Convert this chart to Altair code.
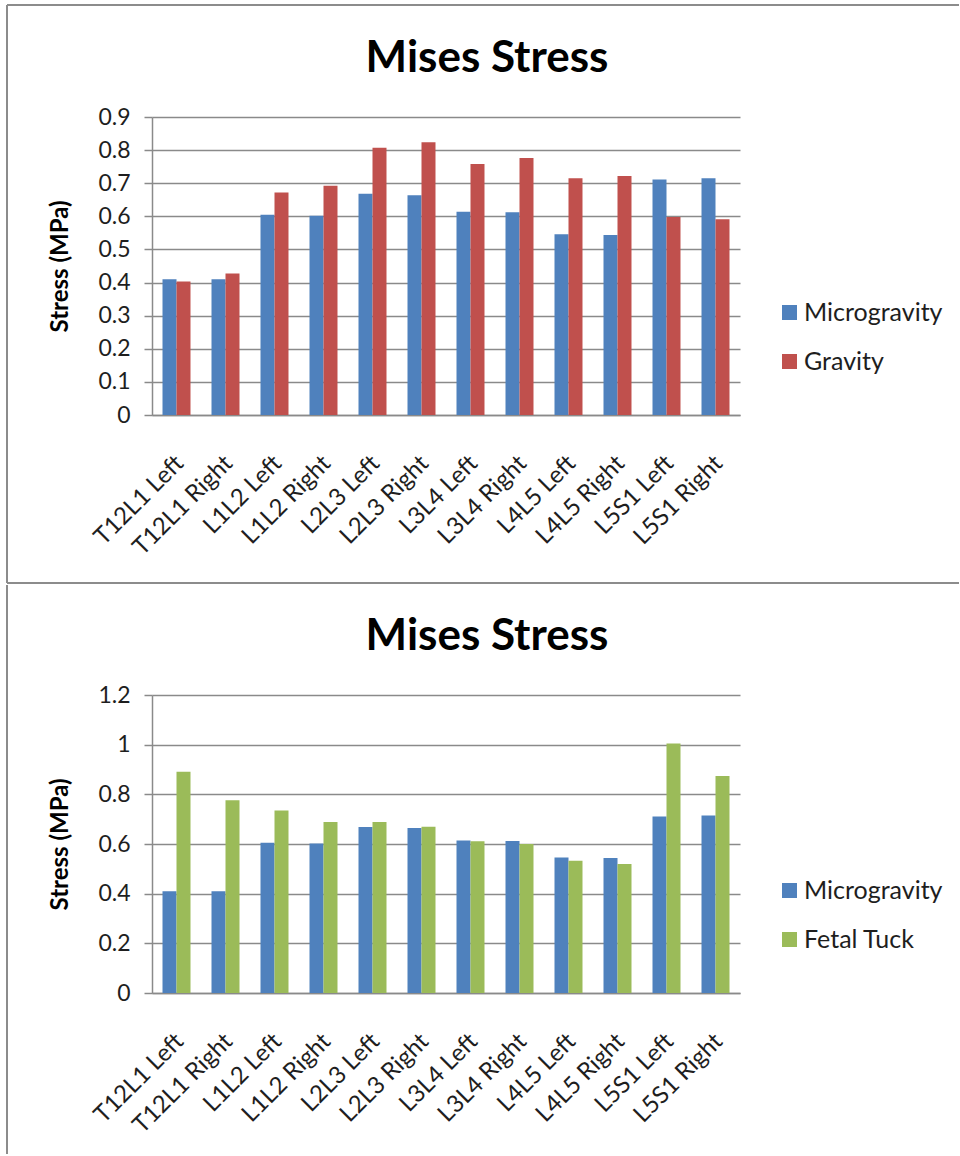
import altair as alt
import pandas as pd

# Facet joint segments along the x axis
segments = [
    "T12L1 Left", "T12L1 Right", "L1L2 Left", "L1L2 Right",
    "L2L3 Left", "L2L3 Right", "L3L4 Left", "L3L4 Right",
    "L4L5 Left", "L4L5 Right", "L5S1 Left", "L5S1 Right",
]

# Mises stress per segment (MPa)
microgravity = [0.410, 0.410, 0.605, 0.602, 0.668, 0.664, 0.614, 0.612, 0.546, 0.544, 0.711, 0.715]
gravity = [0.403, 0.427, 0.672, 0.692, 0.807, 0.824, 0.758, 0.776, 0.715, 0.722, 0.598, 0.591]
fetal_tuck = [0.891, 0.776, 0.735, 0.689, 0.689, 0.669, 0.611, 0.600, 0.533, 0.519, 1.005, 0.874]

# Value-axis tick labels
top_ticks = [0, 0.1, 0.2, 0.3, 0.4, 0.5, 0.6, 0.7, 0.8, 0.9]
bottom_ticks = [0, 0.2, 0.4, 0.6, 0.8, 1.0, 1.2]

FONT = "Lato"
TEXT = "#1e1e1e"
LINE = "#8a8a8a"
BORDER = "#8c8c8c"
BLUE = "#4F81BD"
RED = "#C0504D"
GREEN = "#9BBB59"
PLOT_W, PLOT_H = 588, 298
GAP_RATIO = 0.4286  # gap between clusters, as a share of the band step

one_row = pd.DataFrame({"k": [0]})


def hrule(y, x1, x2):
    return alt.Chart(one_row).mark_rule(color=BORDER, strokeWidth=2).encode(
        x=alt.value(x1), x2=alt.value(x2), y=alt.value(y)
    )


def vrule(x, y1, y2):
    return alt.Chart(one_row).mark_rule(color=BORDER, strokeWidth=2).encode(
        x=alt.value(x), y=alt.value(y1), y2=alt.value(y2)
    )


def panel(name, values, color, ticks, frame, title_offset):
    order = ["Microgravity", name]
    df = pd.DataFrame({
        "segment": segments * 2,
        "series": [order[0]] * len(segments) + [name] * len(segments),
        "stress": microgravity + values,
    })
    bars = alt.Chart(df).mark_bar().encode(
        x=alt.X(
            "segment:N", sort=segments, title=None,
            scale=alt.Scale(paddingInner=GAP_RATIO, paddingOuter=GAP_RATIO / 2),
            axis=alt.Axis(
                labelAngle=-45, labelAlign="right", labelBaseline="top",
                labelFont=FONT, labelFontSize=24, labelColor=TEXT,
                labelPadding=36, labelOffset=-5, labelOverlap=False,
                ticks=False, grid=False, domainColor=LINE, domainWidth=1.5,
            ),
        ),
        xOffset=alt.XOffset(
            "series:N", sort=order,
            scale=alt.Scale(domain=order, paddingInner=0, paddingOuter=0),
        ),
        y=alt.Y(
            "stress:Q", title="Stress (MPa)",
            scale=alt.Scale(domain=[0, ticks[-1]], nice=False),
            axis=alt.Axis(
                values=ticks, format=".1~f",
                labelFont=FONT, labelFontSize=23, labelColor=TEXT, labelPadding=14,
                tickSize=8, tickColor=LINE, tickWidth=1.5,
                domainColor=LINE, domainWidth=1.5,
                gridColor=LINE, gridWidth=1.5,
                titleFont=FONT, titleFontSize=24, titleFontWeight="bold",
                titleColor="#000000", titlePadding=25,
            ),
        ),
        color=alt.Color(
            "series:N", sort=order,
            scale=alt.Scale(domain=order, range=[BLUE, color]),
            legend=alt.Legend(
                title=None, orient="none", legendX=625, legendY=183,
                symbolType="square", symbolSize=225, symbolStrokeWidth=0,
                labelFont=FONT, labelFontSize=25, labelColor=TEXT,
                labelOffset=2, rowPadding=23, padding=0,
            ),
        ),
    ).properties(width=PLOT_W, height=PLOT_H)
    return alt.layer(bars, *frame).properties(
        title=alt.TitleParams(
            "Mises Stress", font=FONT, fontSize=44, fontWeight="bold",
            color="#000000", anchor="middle", frame="group", dx=41,
            baseline="alphabetic", offset=title_offset,
        ),
    )


# chart frame: outer border and the divider between the two panels
top_frame = [vrule(-145, -112, 466), hrule(-112, -145, 807), hrule(466, -145, 807)]
bottom_frame = [vrule(-145, -110, 459)]

top = panel("Gravity", gravity, RED, top_ticks, top_frame, -112)
bottom = panel("Fetal Tuck", fetal_tuck, GREEN, bottom_ticks, bottom_frame, -110)

chart = (
    alt.vconcat(top, bottom, spacing=0)
    .resolve_scale(color="independent", xOffset="independent")
    .resolve_legend(color="independent")
    .properties(padding={"left": 6, "top": 4, "right": 0, "bottom": 0})
    .configure_view(strokeWidth=0)
)

chart.save("out.html", embed_options={"renderer": "svg", "actions": False})
